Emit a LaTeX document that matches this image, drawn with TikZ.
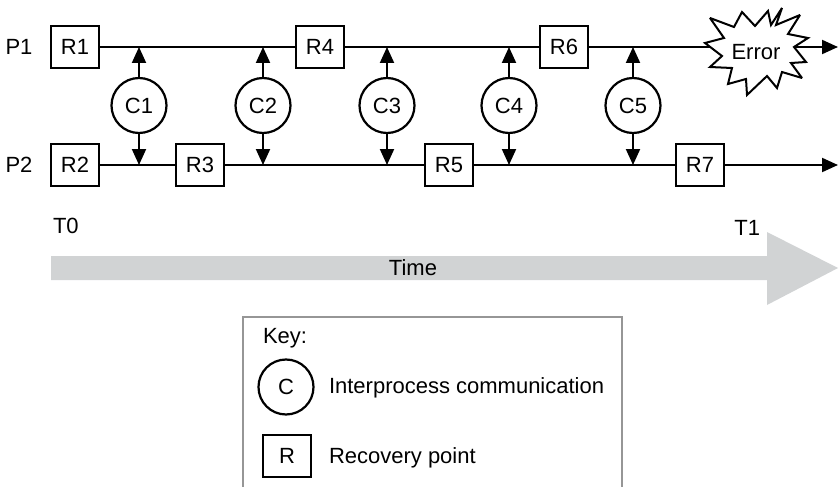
\documentclass[tikz,border=0pt]{standalone}
\usepackage{fontspec}
\setmainfont{Liberation Sans}
\usetikzlibrary{arrows.meta,positioning}
\definecolor{timegray}{RGB}{209,211,212}
\definecolor{keygray}{RGB}{150,150,150}

\begin{document}
\begin{tikzpicture}[
		x=1pt, y=-1pt,
		line width=2pt,
		>={Triangle[length=16pt,width=14pt]},
		every node/.style={
			font=\fontsize{22}{26}\selectfont,
			inner sep=0pt
		},
		rpoint/.style={
			draw,
			line width=2.8pt,
			minimum width=48pt,
			minimum height=42pt
		},
		comm/.style={
			draw,
			circle,
			line width=2.2pt,
			minimum size=55pt
		}]

		\useasboundingbox (0,0) rectangle (839,487);

		%processes
		\node at (19,47) (p1) {P1};
		\node at (19,165) (p2) {P2};

		\node[rpoint] at (75,47) (r1) {R1};
		\node[rpoint] at (320,47) (r4) {R4};
		\node[rpoint] at (564,47) (r6) {R6};

		\node[rpoint] at (75,165) (r2) {R2};
		\node[rpoint] at (200,165) (r3) {R3};
		\node[rpoint] at (449,165) (r5) {R5};
		\node[rpoint] at (700,165) (r7) {R7};

		\coordinate (end1) at (838,47);
		\coordinate (end2) at (838,165);

		\draw (r1) -- (r4);
		\draw (r4) -- (r6);
		\draw[->] (r6) -- (end1);
		\draw (r2) -- (r3);
		\draw (r3) -- (r5);
		\draw (r5) -- (r7);
		\draw[->] (r7) -- (end2);

		%communication
		\node[comm] at (139,105.5) (c1) {C1};
		\node[comm] at (263,105.5) (c2) {C2};
		\node[comm] at (387,105.5) (c3) {C3};
		\node[comm] at (509,105.5) (c4) {C4};
		\node[comm] at (633,105.5) (c5) {C5};

		\foreach \c in {c1,c2,c3,c4,c5} {
			\draw[->] (\c) -- (\c |- r1);
			\draw[->] (\c) -- (\c |- r2);
		}

		%error burst
		\draw[fill=white, line join=miter, miter limit=3] (782,8) -- (776,25) -- (800,15) -- (788,34)
			-- (808,38) -- (794,47) -- (806,62) -- (791,63) -- (802,78) -- (782,72)
			-- (777,88) -- (767,76) -- (747,95) -- (746,79) -- (728,84) -- (732,68)
			-- (710,67) -- (722,56) -- (705,43) -- (724,38) -- (710,18) -- (734,27)
			-- (742,12) -- (755,26) -- (768,11) -- (771,25) -- cycle;
		\node at (756,52) (error) {Error};

		%time
		\fill[timegray] (51,256) -- (767,256) -- (767,232) -- (838,268)
			-- (767,305) -- (767,280) -- (51,280) -- cycle;
		\node at (413,268) (time) {Time};
		\node[anchor=west] at (52,226) (t0) {T0};
		\node[anchor=east] at (761,228) (t1) {T1};

		%key
		\draw[keygray] (243,490) -- (243,317) -- (622,317) -- (622,490);
		\node[anchor=base west] at (262,343) (key) {Key:};
		\node[comm] at (286,387) (kc) {C};
		\node[anchor=base west] at (328,393) (kctext) {Interprocess communication};
		\node[rpoint] at (287,456) (kr) {R};
		\node[anchor=base west] at (328,463) (krtext) {Recovery point};

	\end{tikzpicture}
\end{document}
